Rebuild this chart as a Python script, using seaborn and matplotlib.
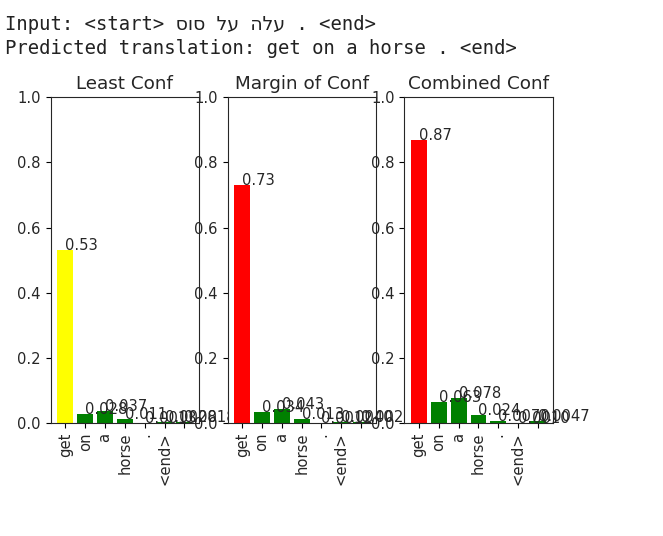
import matplotlib
matplotlib.use("Agg")
import matplotlib.pyplot as plt
import pandas as pd
import seaborn as sns


TOKENS = ["get", "on", "a", "horse", ".", "<end>", ""]
TITLES = ["Least Conf", "Margin of Conf", "Combined Conf"]

LEAST_CONF = [0.53, 0.028, 0.037, 0.011, 0.0013, 0.0028, 0.0018]
MARGIN_CONF = [0.73, 0.034, 0.043, 0.013, 0.0012, 0.0040, 0.0029]
COMBINED_CONF = [0.87, 0.063, 0.078, 0.024, 0.0070, 0.0010, 0.0047]

TOP_COLORS = ["#ffff00", "#ff0000", "#ff0000"]
REST_COLOR = "#008000"

INPUT_TEXT = "Input: <start> " + "עלה על סוס"[::-1] + " . <end>"
PRED_TEXT = "Predicted translation: get on a horse . <end>"

W, H = 663, 536
AX_LEFTS = [50.7, 227.5, 404.3]
AX_W = 148.3
AX_TOP = 97.3
AX_BOTTOM = 423.0


def _draw_panel(ax, values, title, top_color):
  colors = [top_color] + [REST_COLOR] * (len(values) - 1)
  df = pd.DataFrame({"pos": range(len(values)), "value": values})
  sns.barplot(
    data=df,
    x="pos",
    y="value",
    hue="pos",
    palette=colors,
    saturation=1,
    legend=False,
    width=0.8,
    ax=ax,
  )
  for i, v in enumerate(values):
    ax.text(i, v, f"{v:#.2g}", fontsize=10.6, color="#262626")
  ax.set_xticks(range(len(TOKENS)))
  ax.set_xticklabels(TOKENS, rotation=90, fontsize=10.6, color="#262626")
  ax.set_xlim(-0.74, len(values) - 0.26)
  ax.set_ylim(0, 1.0)
  ax.set_yticks([0, 0.2, 0.4, 0.6, 0.8, 1.0])
  ax.set_yticklabels(["0.0", "0.2", "0.4", "0.6", "0.8", "1.0"], fontsize=10.6, color="#262626")
  ax.set_xlabel("")
  ax.set_ylabel("")
  ax.set_title(title, fontsize=13.2, color="#262626")
  for s in ax.spines.values():
    s.set_visible(True)
    s.set_color("#262626")


def main() -> None:
  fig = plt.figure(figsize=(W / 100, H / 100), dpi=100)
  fig.patch.set_facecolor("white")

  all_values = [LEAST_CONF, MARGIN_CONF, COMBINED_CONF]
  for left, values, title, c in zip(AX_LEFTS, all_values, TITLES, TOP_COLORS):
    ax = fig.add_axes([
      left / W,
      1 - AX_BOTTOM / H,
      AX_W / W,
      (AX_BOTTOM - AX_TOP) / H,
    ])
    _draw_panel(ax, values, title, c)

  mono = ["DejaVu Sans Mono", "DejaVu Sans"]
  fig.text(5 / W, 1 - 24 / H, INPUT_TEXT, family=mono, fontsize=13.6, va="center", color="#222222")
  fig.text(5 / W, 1 - 49 / H, PRED_TEXT, family=mono, fontsize=13.6, va="center", color="#222222")

  fig.savefig("out.png", dpi=100, facecolor="white")
  plt.close(fig)


if __name__ == "__main__":
  main()
